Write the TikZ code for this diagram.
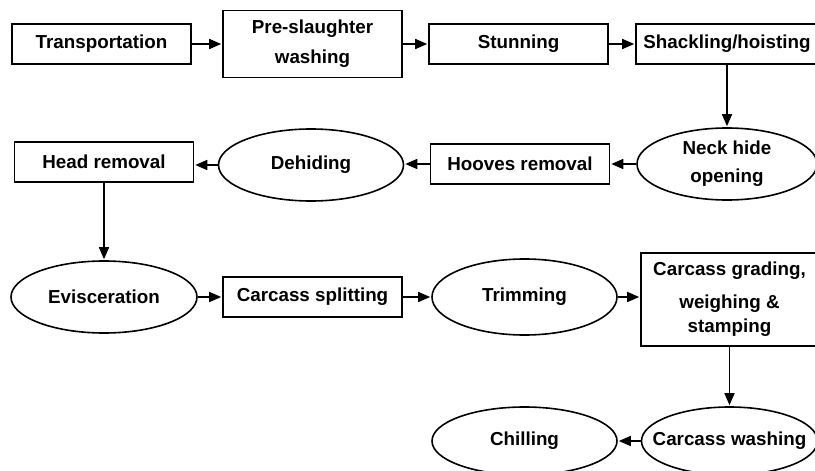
\documentclass[tikz,border=0pt]{standalone}
\usepackage{fontspec}
\setmainfont{Liberation Sans}
\usetikzlibrary{shapes.geometric,arrows.meta}

\begin{document}
\begin{tikzpicture}[x=1pt,y=-1pt,
  font=\fontsize{18.8}{28}\selectfont\bfseries,
  stage/.style={draw,line width=1.6pt,rectangle,inner sep=0pt,
    minimum width=179pt,minimum height=40pt,align=center},
  oval/.style={draw,line width=1.6pt,ellipse,inner sep=0pt,
    minimum width=185pt,minimum height=72pt,align=center},
  flow/.style={line width=1.6pt,-{Triangle[length=12pt,width=10pt]},shorten >=1pt}]
  \path[use as bounding box,clip] (0,0) rectangle (815,471);

  \node[stage] (trans) at (101.5,44) {Transportation};
  \node[stage,minimum height=67pt] (prewash) at (312.5,44) {Pre-slaughter\\[2pt]washing};
  \node[stage] (stun) at (518.5,44) {Stunning};
  \node[stage,minimum width=182pt] (shackle) at (727,44) {Shackling/hoisting};

  \node[oval,minimum width=180pt] (neck) at (727,164) {Neck hide\\opening};
  \node[stage] (hooves) at (520,164) {Hooves removal};
  \node[oval] (dehide) at (311,165) {Dehiding};
  \node[stage] (head) at (104,162) {Head removal};

  \node[oval,minimum width=186pt] (evisc) at (104,297) {Evisceration};
  \node[stage] (split) at (312.5,297) {Carcass splitting};
  \node[oval,minimum height=76pt] (trim) at (524.5,297) {Trimming};
  \node[stage,minimum width=177pt,minimum height=93pt] (grade) at (729.5,299.5)
    {Carcass grading,\\[5pt]weighing \&\\[-4pt]stamping};

  \node[oval,minimum width=176pt,minimum height=68pt] (wash) at (729.5,441)
    {\makebox[0pt]{Carcass washing}};
  \node[oval,minimum height=68pt] (chill) at (524.5,441) {Chilling};

  \draw[flow] (trans) -- (prewash);
  \draw[flow] (prewash) -- (stun);
  \draw[flow] (stun) -- (shackle);
  \draw[flow] (shackle) -- (neck);
  \draw[flow] (neck) -- (hooves);
  \draw[flow] (hooves) -- (hooves -| dehide.east);
  \draw[flow] (dehide) -- (dehide -| head.east);
  \draw[flow] (head) -- (evisc);
  \draw[flow] (evisc) -- (split);
  \draw[flow] (split) -- (trim);
  \draw[flow] (trim) -- (trim -| grade.west);
  \draw[flow] (grade) -- (wash);
  \draw[flow] (wash) -- (chill);
\end{tikzpicture}
\end{document}
